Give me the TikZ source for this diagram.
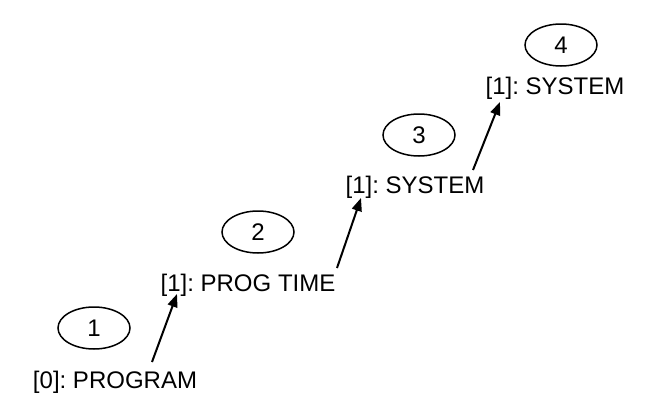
\documentclass[tikz,border=0pt]{standalone}
\usepackage{fontspec}
\setmainfont{Liberation Sans}
\usetikzlibrary{arrows.meta,shapes.geometric}
\frenchspacing
\begin{document}
\begin{tikzpicture}[x=1pt,y=-1pt,
  lbl/.style={anchor=base,inner sep=0pt,font=\fontsize{24}{28}\selectfont},
  stepnum/.style={draw,ellipse,line width=1.5pt,minimum width=72pt,minimum height=42pt,inner sep=0pt,font=\fontsize{24}{28}\selectfont},
  link/.style={line width=2pt,-{Triangle[length=13pt,width=10pt]}}]
\useasboundingbox (0,0) rectangle (654,402);
% frame labels
\node[lbl] (t1) at (115,388) {[0]: PROGRAM};
\node[lbl] (t2) at (248,291) {[1]: PROG TIME};
\node[lbl] (t3) at (415,193) {[1]: SYSTEM};
\node[lbl] (t4) at (555,94) {[1]: SYSTEM};
% step numbers
\node[stepnum] (n1) at (94,328) {1};
\node[stepnum] (n2) at (258,232) {2};
\node[stepnum] (n3) at (419,135) {3};
\node[stepnum] (n4) at (561,45) {4};
% calls
\coordinate (s1) at (152,362);
\coordinate (e1) at (177,294);
\coordinate (s2) at (337,268);
\coordinate (e2) at (361,198);
\coordinate (s3) at (473,170);
\coordinate (e3) at (500,102);
\draw[link] (s1) -- (e1);
\draw[link] (s2) -- (e2);
\draw[link] (s3) -- (e3);
\end{tikzpicture}
\end{document}
